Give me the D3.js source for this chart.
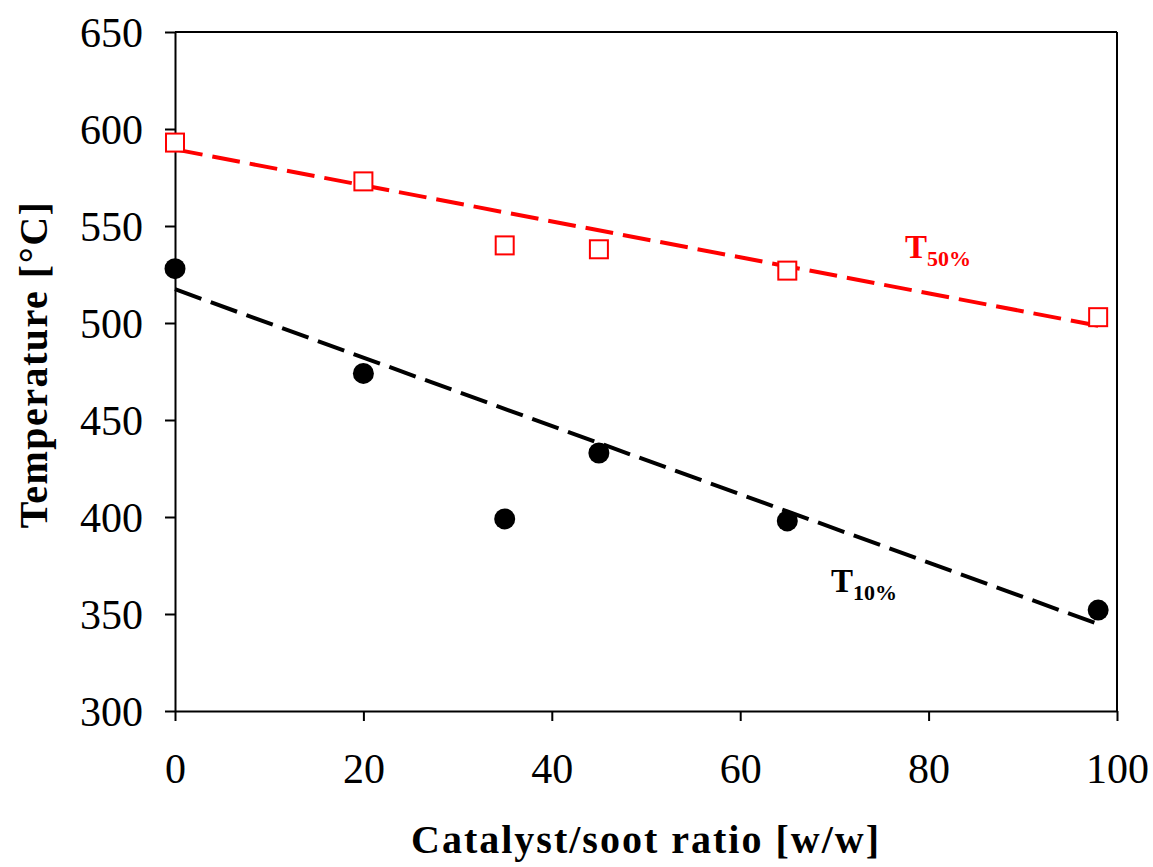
<!DOCTYPE html>
<html>
<head>
<meta charset="utf-8">
<script src="https://cdn.jsdelivr.net/npm/d3@7"></script>
<style>
  html, body { margin: 0; padding: 0; background: #fff; }
  svg { display: block; }
</style>
</head>
<body>
<svg id="chart" width="1153" height="867"></svg>
<script>
// Catalyst/soot ratio (x) and characteristic combustion temperatures
const ratio = [0, 20, 35, 45, 65, 98];
const t50 = [593, 573, 540, 538, 527, 503];
const t10 = [528, 474, 399, 433, 398, 352];

// Linear trend lines, [x, T] at both ends
const trend50 = [[0, 589.5], [98, 498.6]];
const trend10 = [[0, 517.4], [98, 344.8]];

const xTicks = [0, 20, 40, 60, 80, 100];
const yTicks = [300, 350, 400, 450, 500, 550, 600, 650];

const margin = { left: 175, top: 32, right: 1117, bottom: 711 };

const svg = d3.select("#chart");

const x = d3.scaleLinear().domain([0, 100]).range([margin.left, margin.right]);
const y = d3.scaleLinear().domain([300, 650]).range([margin.bottom, margin.top]);

const tickFont = "'Liberation Serif', 'Times New Roman', serif";
const titleFont = "'Liberation Serif', 'Times New Roman', serif";

// Frame: top and right edges
svg.append("line")
  .attr("x1", margin.left).attr("x2", margin.right)
  .attr("y1", margin.top).attr("y2", margin.top)
  .attr("stroke", "#000").attr("stroke-width", 2);
svg.append("line")
  .attr("x1", margin.right).attr("x2", margin.right)
  .attr("y1", margin.top).attr("y2", margin.bottom)
  .attr("stroke", "#000").attr("stroke-width", 2);

// Axes
const xAxis = svg.append("g")
  .attr("transform", `translate(0,${margin.bottom})`)
  .call(d3.axisBottom(x).tickValues(xTicks).tickSize(10).tickSizeOuter(0).tickPadding(32));
const yAxis = svg.append("g")
  .attr("transform", `translate(${margin.left},0)`)
  .call(d3.axisLeft(y).tickValues(yTicks).tickSize(10).tickSizeOuter(0).tickPadding(22));

[xAxis, yAxis].forEach(g => {
  g.select(".domain").attr("stroke", "#000").attr("stroke-width", 2);
  g.selectAll(".tick line").attr("stroke", "#000").attr("stroke-width", 2);
  g.selectAll(".tick text")
    .attr("fill", "#000")
    .style("font-family", tickFont)
    .style("font-size", "42px");
});
xAxis.selectAll(".tick text").attr("dy", "0.71em");
yAxis.selectAll(".tick text").attr("dy", "0.34em");

// Trend lines
const line = d3.line().x(d => x(d[0])).y(d => y(d[1]));
svg.append("path")
  .datum(trend50)
  .attr("d", line)
  .attr("fill", "none")
  .attr("stroke", "#ff0000")
  .attr("stroke-width", 4)
  .attr("stroke-dasharray", "28,10");
svg.append("path")
  .datum(trend10)
  .attr("d", line)
  .attr("fill", "none")
  .attr("stroke", "#000")
  .attr("stroke-width", 4)
  .attr("stroke-dasharray", "28,10");

// T50% markers: open red squares
const sq = 18;
svg.append("g").selectAll("rect")
  .data(ratio.map((r, i) => [r, t50[i]]))
  .join("rect")
  .attr("x", d => x(d[0]) - sq / 2)
  .attr("y", d => y(d[1]) - sq / 2)
  .attr("width", sq).attr("height", sq)
  .attr("fill", "#fff")
  .attr("stroke", "#ff0000")
  .attr("stroke-width", 2);

// T10% markers: filled black circles
svg.append("g").selectAll("circle")
  .data(ratio.map((r, i) => [r, t10[i]]))
  .join("circle")
  .attr("cx", d => x(d[0]))
  .attr("cy", d => y(d[1]))
  .attr("r", 10.5)
  .attr("fill", "#000");

// Series labels
function seriesLabel(px, py, sub, color) {
  const t = svg.append("text")
    .attr("x", px).attr("y", py)
    .attr("fill", color)
    .style("font-family", titleFont)
    .style("font-weight", "bold")
    .style("font-size", "33px");
  t.append("tspan").text("T");
  t.append("tspan").attr("dy", 8).style("font-size", "22px").text(sub);
}
seriesLabel(905, 258, "50%", "#ff0000");
seriesLabel(831, 592, "10%", "#000");

// Axis titles
svg.append("text")
  .attr("x", (margin.left + margin.right) / 2)
  .attr("y", 853)
  .attr("text-anchor", "middle")
  .style("font-family", titleFont)
  .style("font-weight", "bold")
  .style("font-size", "40px")
  .style("letter-spacing", "2px")
  .text("Catalyst/soot ratio [w/w]");

svg.append("text")
  .attr("transform", `translate(47,${(margin.top + margin.bottom) / 2 - 7}) rotate(-90)`)
  .attr("text-anchor", "middle")
  .style("font-family", titleFont)
  .style("font-weight", "bold")
  .style("font-size", "40px")
  .style("letter-spacing", "1.5px")
  .text("Temperature [°C]");
</script>
</body>
</html>
